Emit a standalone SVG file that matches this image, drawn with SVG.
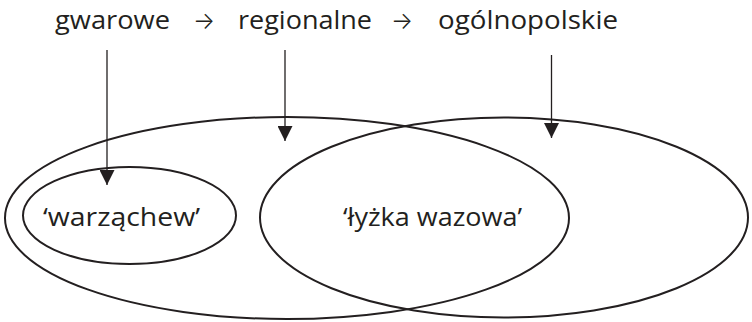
<svg xmlns="http://www.w3.org/2000/svg" width="752" height="322" viewBox="0 0 752 322">
  <style>
    .lbl { font-family: "Open Sans", "Noto Sans", "Liberation Sans", sans-serif; font-size: 25px; fill: #231f20; }
    .arw { font-family: Inter, "DejaVu Sans", sans-serif; font-size: 24px; font-weight: 300; fill: #231f20; }
    .set { fill: none; stroke: #231f20; stroke-width: 2; }
    .link { stroke: #231f20; stroke-width: 1.3; fill: none; marker-end: url(#head); }
  </style>
  <defs>
    <marker id="head" markerUnits="userSpaceOnUse" markerWidth="15" markerHeight="15" refX="15" refY="7.5" orient="auto" viewBox="0 0 15 15">
      <path d="M0,0 L15,7.5 L0,15 Z" fill="#231f20"/>
    </marker>
  </defs>

  <!-- register scale along the top -->
  <g id="scale">
    <text class="lbl" x="55" y="29" textLength="115" lengthAdjust="spacingAndGlyphs">gwarowe</text>
    <text class="arw" x="193" y="29" textLength="22" lengthAdjust="spacingAndGlyphs">→</text>
    <text class="lbl" x="238" y="29" textLength="134" lengthAdjust="spacingAndGlyphs">regionalne</text>
    <text class="arw" x="391" y="29" textLength="22" lengthAdjust="spacingAndGlyphs">→</text>
    <text class="lbl" x="438" y="29" textLength="180" lengthAdjust="spacingAndGlyphs">ogólnopolskie</text>
  </g>

  <!-- regional set (large left ellipse) -->
  <g id="regionalne">
    <ellipse class="set" cx="287" cy="218" rx="282" ry="101"/>
  </g>

  <!-- nationwide set (right ellipse) -->
  <g id="ogolnopolskie">
    <ellipse class="set" cx="504" cy="217.5" rx="244" ry="100"/>
    <text class="lbl" x="343" y="226" textLength="179" lengthAdjust="spacingAndGlyphs">‘łyżka wazowa’</text>
  </g>

  <!-- dialect set (small ellipse) -->
  <g id="gwarowe">
    <ellipse class="set" cx="129.5" cy="215.5" rx="106.5" ry="48.5"/>
    <text class="lbl" x="43" y="226" textLength="157" lengthAdjust="spacingAndGlyphs">‘warząchew’</text>
  </g>

  <!-- connectors from the scale labels to the sets -->
  <g id="connectors">
    <line class="link" x1="107" y1="50" x2="107" y2="185"/>
    <line class="link" x1="285" y1="50" x2="285" y2="141"/>
    <line class="link" x1="551.5" y1="55" x2="551.5" y2="138"/>
  </g>
</svg>
